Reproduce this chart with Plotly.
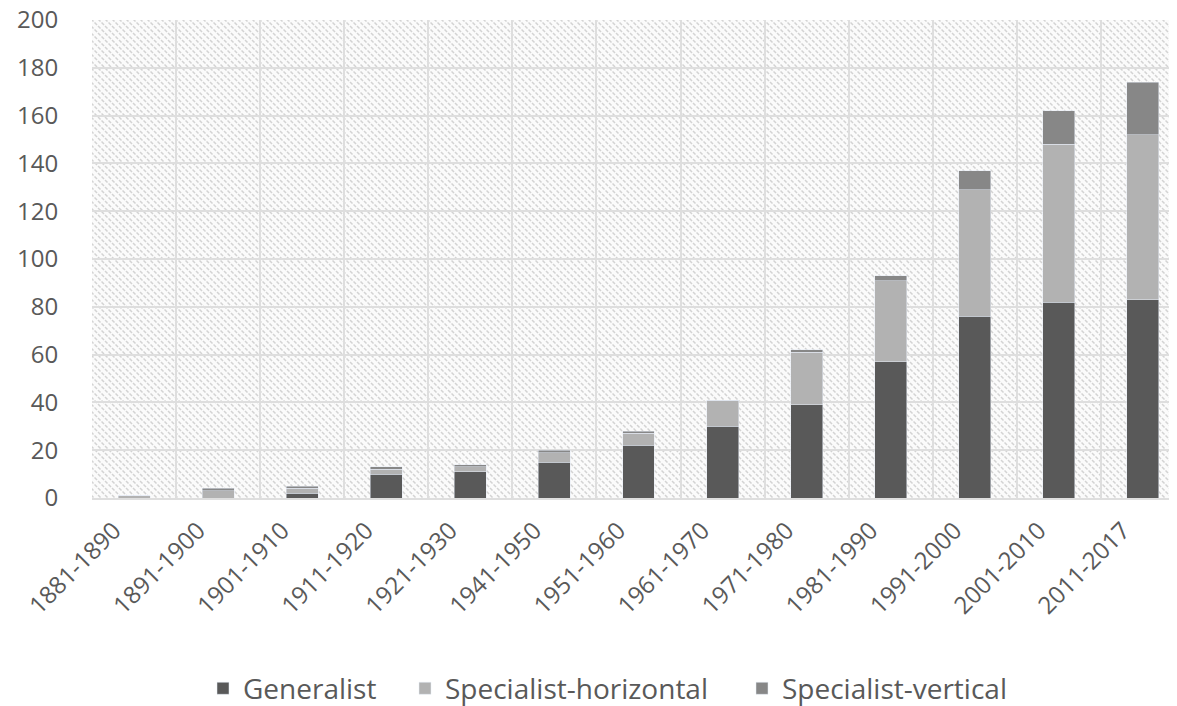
import base64
import plotly.graph_objects as go

categories = ["1881-1890", "1891-1900", "1901-1910", "1911-1920", "1921-1930",
              "1941-1950", "1951-1960", "1961-1970", "1971-1980", "1981-1990",
              "1991-2000", "2001-2010", "2011-2017"]
generalist = [0, 0, 2, 10, 11, 15, 22, 30, 39, 57, 76, 82, 83]
spec_horizontal = [1, 3, 2, 2, 2, 4, 5, 11, 22, 34, 53, 66, 69]
spec_vertical = [0, 1, 1, 1, 1, 1, 1, 0, 1, 2, 8, 14, 22]
y_ticks = list(range(0, 201, 20))

# page body adds an 8px offset, compensate in margins
W, H = 1177, 706
ml, mr, mt, mb = 84, 0, 12, 216
pw, ph = W - ml - mr, H - mt - mb

# hatch background image (diagonal "\" lines)
svg = f'''<svg xmlns="http://www.w3.org/2000/svg" width="{pw}" height="{ph}">
<defs><pattern id="p" width="7" height="7" patternUnits="userSpaceOnUse">
<rect width="7" height="7" fill="#fbfbfb"/>
<path d="M-1,-1 L8,8 M-1,6 L1,8 M6,-1 L8,1" stroke="#d3d3d3" stroke-width="1.5" stroke-dasharray="3.5,1.5"/>
</pattern></defs>
<rect width="{pw}" height="{ph}" fill="url(#p)"/></svg>'''
src = "data:image/svg+xml;base64," + base64.b64encode(svg.encode()).decode()

font = "Open Sans"
txt = "#595959"
fig = go.Figure()
fig.add_bar(x=categories, y=generalist, name="Generalist", marker_color="#595959", legend="legend")
fig.add_bar(x=categories, y=spec_horizontal, name="Specialist-horizontal", marker_color="#b2b2b2", legend="legend2")
fig.add_bar(x=categories, y=spec_vertical, name="Specialist-vertical", marker_color="#878787", legend="legend3")

leg = dict(orientation="h", xref="container", xanchor="left", yref="container",
           y=0.036, yanchor="middle", font=dict(size=28, color=txt),
           bgcolor="rgba(0,0,0,0)", itemwidth=30, entrywidthmode="pixels")
fig.update_layout(
    width=W, height=H,
    margin=dict(l=ml, r=mr, t=mt, b=mb, autoexpand=False),
    barmode="stack", bargap=0.62,
    paper_bgcolor="white", plot_bgcolor="#f7f7f7",
    font=dict(family=font, color=txt, size=25),
    images=[dict(source=src, xref="paper", yref="paper", x=0, y=1, sizex=1, sizey=1,
                 xanchor="left", yanchor="top", sizing="stretch", layer="below")],
    legend=dict(leg, x=195 / W, entrywidth=146),
    legend2=dict(leg, x=397 / W, entrywidth=275),
    legend3=dict(leg, x=734 / W, entrywidth=242),
    showlegend=True,
)
fig.update_xaxes(type="category", tickson="boundaries", showgrid=True, automargin=False,
                 gridcolor="#dedede", gridwidth=2, tickangle=-45,
                 tickfont=dict(size=24, color=txt), ticks="", ticklabelstandoff=7,
                 ticklabelshift=-20,
                 showline=True, linecolor="#dedede", linewidth=2)
fig.update_yaxes(range=[0, 200], tickvals=y_ticks, showgrid=True, gridcolor="#dedede",
                 automargin=False, gridwidth=2, zeroline=False, ticklabeloverflow="allow",
                 ticks="outside", ticklen=28, tickcolor="rgba(0,0,0,0)",
                 tickfont=dict(size=24, color=txt))

fig.write_html("out.html")
